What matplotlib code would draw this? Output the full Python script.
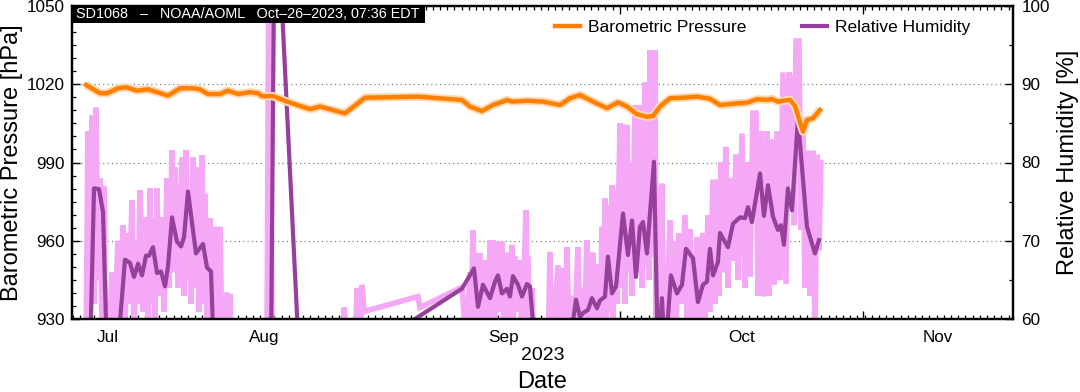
import numpy as np
import matplotlib
matplotlib.use('Agg')
import matplotlib.pyplot as plt
from matplotlib.ticker import FixedLocator, MultipleLocator
from matplotlib.patches import Rectangle

plt.rcParams['font.family'] = ['Liberation Sans', 'DejaVu Sans']

# x axis: days since start of the plotted window
x_max = 130.7
month_days = [4.9, 26.7, 59.9, 93.0, 120.3]
month_labels = ['Jul', 'Aug', 'Sep', 'Oct', 'Nov']
major_days = [76.1, 109.9]

# barometric pressure (hPa), smoothed
p_days = [1.94, 3.89, 4.86, 6.39, 7.5, 9.03, 10.56, 13.33, 15.0, 16.81, 17.78, 18.89,
          20.56, 21.67, 23.06, 24.72, 25.83, 26.39, 27.92, 29.86, 33.06, 34.44, 37.92,
          40.69, 48.06, 54.17, 55.28, 56.94, 58.47, 60.42, 61.11, 63.19, 65.42, 67.78,
          69.17, 70.56, 72.36, 74.31, 75.83, 77.08, 78.47, 79.86, 80.69, 81.67, 83.06,
          84.86, 86.81, 88.61, 90.0, 91.81, 93.75, 95.14, 96.53, 97.22, 98.06, 99.72,
          100.42, 101.53, 102.08, 102.92, 103.89]
p_vals = [1019.7, 1016.5, 1016.5, 1018.4, 1018.8, 1017.5, 1018.0, 1015.6, 1018.4, 1018.4,
          1018.0, 1016.2, 1016.2, 1017.5, 1016.2, 1016.9, 1016.5, 1015.4, 1015.4, 1013.3,
          1010.4, 1011.4, 1008.8, 1014.8, 1015.2, 1013.9, 1011.4, 1009.7, 1012.0, 1013.9,
          1013.3, 1013.6, 1013.3, 1012.0, 1014.6, 1015.8, 1013.3, 1010.8, 1013.0, 1011.4,
          1008.5, 1007.5, 1007.8, 1011.4, 1014.6, 1014.8, 1015.2, 1014.4, 1012.0, 1012.5,
          1012.9, 1014.2, 1014.0, 1014.3, 1013.3, 1014.0, 1011.6, 1001.8, 1006.3, 1006.9,
          1010.1]

# relative humidity (%), smoothed
rh_days = [2.5, 3.06, 3.75, 4.31, 4.86, 6.25, 7.36, 8.06, 8.61, 9.17, 9.72, 10.28, 10.69,
           11.25, 11.81, 12.36, 12.92, 13.33, 13.89, 14.58, 15.14, 15.56, 16.11, 17.22,
           18.19, 18.75, 19.31, 19.72, 27.64, 28.19, 31.39, 47.22, 54.17, 55.83, 56.39,
           57.08, 58.06, 58.75, 59.17, 59.72, 60.42, 60.83, 61.25, 61.94, 62.5, 63.19,
           63.61, 64.44, 68.89, 70.0, 70.56, 70.97, 71.67, 72.22, 72.92, 73.33, 74.03,
           74.44, 75.0, 75.56, 76.53, 77.22, 77.78, 78.33, 78.89, 79.31, 79.86, 80.83,
           81.39, 81.94, 82.36, 83.19, 84.03, 84.72, 85.28, 86.25, 86.94, 87.64, 88.19,
           88.61, 89.03, 89.72, 90.0, 91.11, 91.81, 92.78, 93.47, 93.89, 94.44, 95.56,
           96.11, 96.67, 97.36, 98.06, 98.47, 98.89, 99.44, 100.0, 100.83, 102.08,
           103.19, 103.75]
rh_vals = [55, 76.7, 76.6, 73.7, 55, 55, 67.6, 67.2, 65.4, 67.1, 65.6, 68.1, 68.1, 69.2,
           65.9, 66.1, 64.2, 66.7, 73.0, 69.9, 69.3, 70.5, 76.3, 68.4, 69.6, 66.6, 66.1, 55,
           55, 118, 58, 59.8, 63.9, 66.5, 61.6, 64.4, 62.7, 64.8, 65.6, 63.3, 63.9, 62.9,
           65.5, 64.4, 62.9, 64.5, 64.2, 55, 55, 62.5, 60.3, 60.8, 61.2, 62.7, 61.4, 62.4,
           62.9, 68.0, 63.3, 64.2, 73.5, 68.2, 72.6, 65.4, 71.8, 72.4, 68.4, 80.1, 55, 62.7,
           55, 65.6, 63.3, 64.4, 69.0, 67.8, 62.2, 64.4, 64.8, 69.0, 65.6, 67.3, 71.0, 69.2,
           72.2, 73.0, 72.9, 74.3, 72.4, 78.6, 73.2, 77.1, 73.1, 71.4, 72.0, 69.5, 76.7,
           73.9, 85.6, 71.8, 68.4, 70.1]

# relative humidity (%), raw samples
rh_raw_days = [1.94, 2.22, 2.5, 2.78, 3.06, 3.33, 3.61, 3.89, 4.17, 4.44, 4.72,
               5.14, 5.56, 5.83, 6.39, 6.67, 7.08, 7.36, 7.64, 7.92, 8.33, 8.61, 9.03,
               9.17, 9.44, 9.86, 10.28, 10.56, 10.83, 10.97, 11.25, 11.53, 11.81, 12.08,
               12.5, 12.78, 13.19, 13.47, 13.89, 14.03, 14.31, 14.72, 15.28, 15.56, 15.83,
               16.11, 16.39, 16.53, 16.81, 17.08, 17.36, 17.64, 18.06, 18.33, 18.47, 18.75,
               19.17, 19.44, 19.86, 20.14, 20.56, 20.83, 21.53, 21.67, 21.94, 22.22,
               27.08, 27.43, 27.78,
               37.64, 37.78, 38.19, 39.31, 39.58, 40.0, 40.28, 40.56, 48.06, 48.33, 54.17,
               54.72, 55.28, 55.42, 55.69, 55.97, 56.25, 56.39, 56.67, 56.94, 57.36, 57.64,
               58.06, 58.19, 58.47, 58.75, 59.03, 59.31, 59.72, 60.0, 60.56, 60.83, 61.11,
               61.25, 61.53, 61.81, 62.22, 62.5, 63.06, 63.19, 63.33, 63.61, 63.89, 64.17,
               66.11, 66.39, 66.67, 67.5, 67.78, 68.06, 68.33,
               68.61, 68.75, 69.03, 69.44, 69.72, 70.28, 70.56, 70.83, 71.11, 71.53, 71.81,
               72.36, 72.64, 73.06, 73.33, 73.61, 73.75, 74.03, 74.17, 74.44, 74.72, 75.0,
               75.14, 75.42, 75.69, 76.11, 76.25, 76.53, 76.81, 77.08, 77.36, 77.5, 77.78,
               78.19, 78.47, 78.89, 79.17, 79.58, 79.72, 80.0, 80.14, 80.28, 80.56, 80.97,
               81.11, 81.25, 81.53, 81.94, 82.22,
               82.5, 83.06, 83.33, 83.61, 83.89, 84.31, 84.58, 85.14, 85.42, 85.83, 86.11,
               86.81, 87.08, 87.64, 87.92, 88.33, 88.61, 89.03, 89.31, 89.72, 89.86,
               90.14, 90.42, 90.83, 91.11, 91.53, 91.81, 92.22, 92.5, 93.06, 93.47, 93.89,
               94.17, 94.58, 95.0, 95.28, 95.69, 96.11, 96.53, 96.81, 97.22, 97.5, 97.92,
               98.33, 98.75, 99.17, 99.58, 100.0, 100.28, 100.56, 100.97, 101.25, 101.53,
               101.81, 102.22, 102.5, 102.92, 103.19, 103.47, 103.75, 104.03]
rh_raw_vals = [55, 84, 60, 86, 62, 87, 65, 78, 58, 77, 55,
               57, 66, 58, 70, 60, 72, 59, 71, 62, 75.2, 58, 70,
               62, 76.5, 61, 73, 59, 76.7, 62, 73, 60, 76.7, 63,
               73, 61, 78, 64, 81.6, 66, 79.4, 64, 80.7, 63, 81.6,
               65, 75, 62, 80.7, 64, 79.4, 61, 80.9, 62, 76, 58,
               72.9, 57, 71.8, 58, 71.8, 57, 63.4, 58, 63.2, 55,
               55, 125, 55,
               55, 61.5, 56, 55, 64, 56, 64.4, 61, 62.9, 61.5, 64.1,
               57, 66, 58, 71.4, 60, 68.4, 57, 68.4, 59, 67.5, 57,
               70.1, 60, 70.1, 58, 69.9, 61, 69.9, 57, 68.5, 60, 69.5,
               58, 68, 61, 67.5, 57, 73.9, 60, 68, 57, 64, 55,
               55, 68.6, 55, 66.9, 57, 66.5, 55,
               56, 69.2, 58, 63, 56, 69.2, 58, 64, 57, 70.1, 59,
               68.5, 56, 67, 58, 71.8, 60, 75.4, 58, 74.5, 61, 77.1,
               60, 76.5, 62, 85, 64, 84.8, 62, 84.8, 66, 80, 63,
               87.3, 66, 87.3, 64, 90.2, 67, 90.2, 65, 94.3, 68, 94.3,
               58, 76.9, 57, 77.3, 56,
               57, 72.6, 60, 70, 58, 71, 62, 73.3, 59, 71.5, 57,
               70.5, 58, 71, 60, 73.3, 61, 77.8, 62, 77.8, 63,
               80, 66, 82, 64, 78, 67.5, 81, 65, 83.7, 64, 80,
               65.4, 86.3, 86.3, 63, 84, 62.9, 84, 63, 83, 64.4, 84,
               65, 91.5, 64.5, 91.5, 90, 72, 95.5, 95.5, 71.4, 84,
               64, 81.5, 63, 81.5, 57, 81, 68.8, 80]

# colours
c_press = '#ff8000'
c_press_raw = '#ffd9b5'
c_rh = '#96409b'
c_rh_raw = '#f4a8f6'

fig = plt.figure(figsize=(10.8, 3.92), dpi=100)
ax2 = fig.add_axes([72 / 1080, 1 - 319.3 / 392, 941 / 1080, 313.6 / 392])
ax = ax2.twinx()

# humidity on the right axis (drawn underneath)
ax2.plot(rh_raw_days, rh_raw_vals, color=c_rh_raw, lw=4.0, solid_joinstyle='miter')
ax2.plot(rh_days, rh_vals, color=c_rh, lw=3.0, label='Relative Humidity')
ax2.set_ylim(60, 100)
ax2.set_xlim(0, x_max)
ax2.yaxis.tick_right()
ax2.yaxis.set_label_position('right')
ax2.set_yticks([60, 70, 80, 90, 100])
ax2.yaxis.set_minor_locator(MultipleLocator(5))
ax2.grid(axis='y', which='major', color='#7f7f7f', lw=0.9, ls=(0, (1, 2.5)))
ax2.set_ylabel('Relative Humidity [%]', fontsize=17, va='center')
ax2.yaxis.set_label_coords(1.0585, 0.5)

# pressure on the left axis (drawn on top)
ax.plot(p_days, p_vals, color=c_press_raw, lw=6, solid_capstyle='butt')
ax.plot(p_days, p_vals, color=c_press, lw=3.2, label='Barometric Pressure')
ax.set_ylim(930, 1050)
ax.yaxis.tick_left()
ax.yaxis.set_label_position('left')
ax.set_yticks([930, 960, 990, 1020, 1050])
ax.yaxis.set_minor_locator(MultipleLocator(5))
ax.set_ylabel('Barometric Pressure [hPa]', fontsize=17, va='center')
ax.yaxis.set_label_coords(-0.0638, 0.5)
ax.set_zorder(ax2.get_zorder() + 1)
ax.patch.set_visible(False)

# x ticks: long ticks at fixed spacing, daily minor ticks, month names as labels
ax2.xaxis.set_major_locator(FixedLocator(major_days))
ax2.xaxis.set_minor_locator(FixedLocator(np.arange(major_days[0] % 1.0, x_max, 1.0)))
ax2.set_xticklabels([])
ax2.tick_params(axis='x', which='both', direction='in', top=True, bottom=True)
sec = ax2.secondary_xaxis('bottom')
sec.set_xticks(month_days, month_labels)
sec.tick_params(length=0, pad=8, labelsize=12.3)
sec.spines['bottom'].set_visible(False)

for a in (ax, ax2):
    a.tick_params(which='major', direction='in', length=5.5, width=1.0, labelsize=12.3, pad=5)
    a.tick_params(which='minor', direction='in', length=3.0, width=0.9)
    for s in a.spines.values():
        s.set_linewidth(1.6)
ax2.tick_params(axis='y', which='major', pad=6)

fig.text(542.5 / 1080, 1 - 356 / 392, '2023', ha='center', va='center', fontsize=14)
fig.text(542.5 / 1080, 1 - 382 / 392, 'Date', ha='center', va='center', fontsize=17)

# header box
ax.add_patch(Rectangle((0, 0.9446), 353 / 941, 0.0554, transform=ax.transAxes,
                       facecolor='black', edgecolor='none', clip_on=False, zorder=5))
ax.text(4 / 941, 0.972, 'SD1068   \u2013   NOAA/AOML   Oct\u201326\u20132023, 07:36 EDT',
        transform=ax.transAxes, color='white', fontsize=10.4, ha='left', va='center', zorder=6)

h1, l1 = ax.get_legend_handles_labels()
h2, l2 = ax2.get_legend_handles_labels()
ax.legend(h1 + h2, l1 + l2, loc='center left', bbox_to_anchor=(0.513, 0.931), ncol=2,
          frameon=False, fontsize=12.5, handlelength=1.45, handletextpad=0.45,
          columnspacing=3.2, borderaxespad=0, borderpad=0)

fig.savefig('out.png', dpi=100)
